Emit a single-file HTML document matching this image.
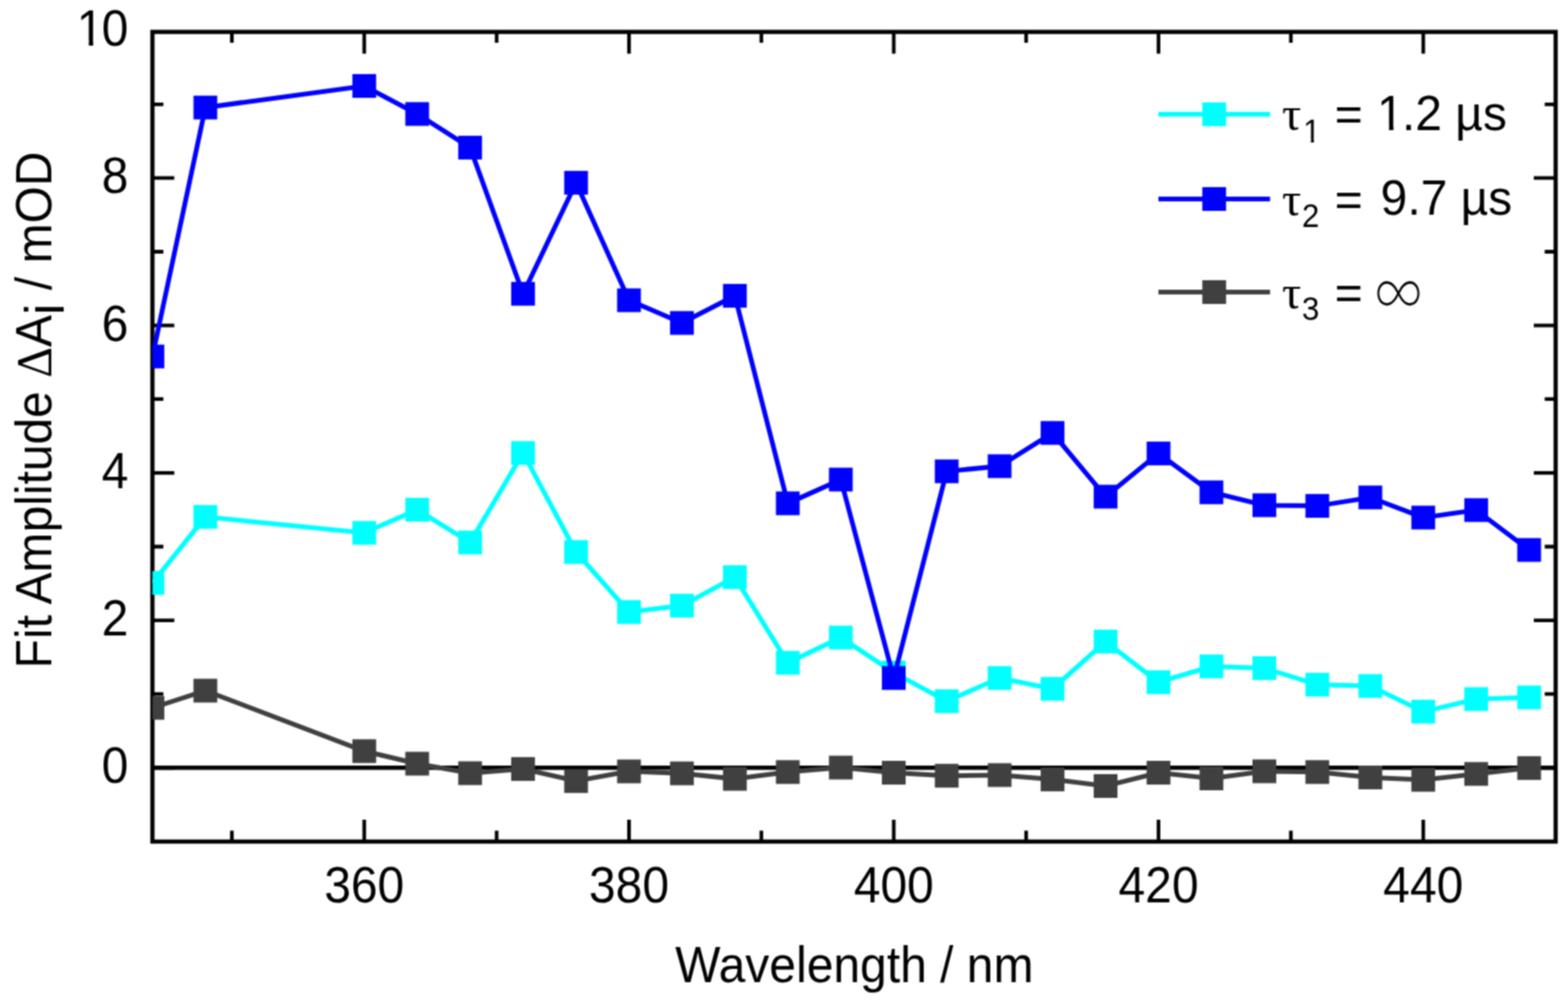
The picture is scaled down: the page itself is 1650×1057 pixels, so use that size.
<!DOCTYPE html>
<html><head><meta charset="utf-8"><title>Fit Amplitude vs Wavelength</title>
<style>
html,body{margin:0;padding:0;background:#fff;width:1650px;height:1057px;overflow:hidden}
svg{display:block}
text{font-family:"Liberation Sans", Arial, Helvetica, sans-serif;font-size:50.5px;fill:#000}
</style></head><body>
<svg width="1650" height="1057" viewBox="0 0 1650 1057">
<defs><filter id="bl" filterUnits="userSpaceOnUse" x="0" y="0" width="1650" height="1057" color-interpolation-filters="sRGB"><feConvolveMatrix order="3" kernelMatrix="1 2 1 2 4 2 1 2 1" divisor="16" edgeMode="duplicate" preserveAlpha="true"/></filter><clipPath id="one10"><rect x="75.84" y="9.36" width="50.50" height="33.58"/><rect x="93.44" y="42.64" width="4.66" height="7.96"/></clipPath><clipPath id="onesub"><rect x="1366.31" y="124.92" width="33.00" height="21.49"/><rect x="1379.51" y="146.11" width="3.12" height="6.59"/></clipPath><clipPath id="oneleg"><rect x="1444.10" y="99.20" width="50.50" height="32.91"/><rect x="1461.70" y="131.81" width="4.66" height="7.89"/></clipPath><clipPath id="c"><rect x="160.4" y="33.6" width="1476.6" height="852.4"/></clipPath></defs>
<g filter="url(#bl)">
<rect width="1650" height="1057" fill="#fff"/>
<path d="M160.4,808.3H1637.0" stroke="#000" stroke-width="4.4"/>
<path d="M244.0,886.0V874.5M244.0,33.6V45.1M383.3,886.0V863.0M383.3,33.6V56.6M522.6,886.0V874.5M522.6,33.6V45.1M661.9,886.0V863.0M661.9,33.6V56.6M801.2,886.0V874.5M801.2,33.6V45.1M940.5,886.0V863.0M940.5,33.6V56.6M1079.8,886.0V874.5M1079.8,33.6V45.1M1219.1,886.0V863.0M1219.1,33.6V56.6M1358.4,886.0V874.5M1358.4,33.6V45.1M1497.7,886.0V863.0M1497.7,33.6V56.6M160.4,808.3H183.4M1637.0,808.3H1614.0M160.4,730.7H171.9M1637.0,730.7H1625.5M160.4,653.1H183.4M1637.0,653.1H1614.0M160.4,575.5H171.9M1637.0,575.5H1625.5M160.4,497.9H183.4M1637.0,497.9H1614.0M160.4,420.2H171.9M1637.0,420.2H1625.5M160.4,342.6H183.4M1637.0,342.6H1614.0M160.4,265.0H171.9M1637.0,265.0H1625.5M160.4,187.4H183.4M1637.0,187.4H1614.0M160.4,109.8H171.9M1637.0,109.8H1625.5" stroke="#000" stroke-width="3.8" fill="none"/>
<rect x="160.4" y="33.6" width="1476.6" height="852.4" fill="none" stroke="#000" stroke-width="4.4"/>
<g clip-path="url(#c)">
<polyline points="160.4,613.7 216.1,544.2 383.3,561.0 439.0,536.6 494.7,571.1 550.4,476.9 606.2,581.2 661.9,644.3 717.6,637.6 773.3,607.6 829.0,697.8 884.8,671.2 940.5,708.1 996.2,738.2 1051.9,713.8 1107.6,725.2 1163.4,675.4 1219.1,718.2 1274.8,701.6 1330.5,703.4 1386.2,720.8 1442.0,722.2 1497.7,749.2 1553.4,736.0 1609.1,734.2" fill="none" stroke="#00FFFF" stroke-width="5.0" stroke-linejoin="miter" stroke-miterlimit="3"/>
<rect x="147.9" y="601.2" width="25" height="25" fill="#00FFFF"/><rect x="203.6" y="531.7" width="25" height="25" fill="#00FFFF"/><rect x="370.8" y="548.5" width="25" height="25" fill="#00FFFF"/><rect x="426.5" y="524.1" width="25" height="25" fill="#00FFFF"/><rect x="482.2" y="558.6" width="25" height="25" fill="#00FFFF"/><rect x="537.9" y="464.4" width="25" height="25" fill="#00FFFF"/><rect x="593.7" y="568.7" width="25" height="25" fill="#00FFFF"/><rect x="649.4" y="631.8" width="25" height="25" fill="#00FFFF"/><rect x="705.1" y="625.1" width="25" height="25" fill="#00FFFF"/><rect x="760.8" y="595.1" width="25" height="25" fill="#00FFFF"/><rect x="816.5" y="685.3" width="25" height="25" fill="#00FFFF"/><rect x="872.3" y="658.7" width="25" height="25" fill="#00FFFF"/><rect x="928.0" y="695.6" width="25" height="25" fill="#00FFFF"/><rect x="983.7" y="725.7" width="25" height="25" fill="#00FFFF"/><rect x="1039.4" y="701.3" width="25" height="25" fill="#00FFFF"/><rect x="1095.1" y="712.7" width="25" height="25" fill="#00FFFF"/><rect x="1150.9" y="662.9" width="25" height="25" fill="#00FFFF"/><rect x="1206.6" y="705.7" width="25" height="25" fill="#00FFFF"/><rect x="1262.3" y="689.1" width="25" height="25" fill="#00FFFF"/><rect x="1318.0" y="690.9" width="25" height="25" fill="#00FFFF"/><rect x="1373.7" y="708.3" width="25" height="25" fill="#00FFFF"/><rect x="1429.5" y="709.7" width="25" height="25" fill="#00FFFF"/><rect x="1485.2" y="736.7" width="25" height="25" fill="#00FFFF"/><rect x="1540.9" y="723.5" width="25" height="25" fill="#00FFFF"/><rect x="1596.6" y="721.7" width="25" height="25" fill="#00FFFF"/>
<polyline points="160.4,375.3 216.1,113.2 383.3,90.5 439.0,120.0 494.7,155.4 550.4,309.3 606.2,192.4 661.9,316.1 717.6,340.0 773.3,311.4 829.0,529.9 884.8,504.9 940.5,713.8 996.2,496.2 1051.9,490.8 1107.6,455.8 1163.4,522.9 1219.1,477.4 1274.8,518.3 1330.5,531.9 1386.2,532.6 1442.0,523.7 1497.7,544.9 1553.4,537.0 1609.1,579.0" fill="none" stroke="#0000FF" stroke-width="5.0" stroke-linejoin="miter" stroke-miterlimit="3"/>
<rect x="147.9" y="362.8" width="25" height="25" fill="#0000FF"/><rect x="203.6" y="100.7" width="25" height="25" fill="#0000FF"/><rect x="370.8" y="78.0" width="25" height="25" fill="#0000FF"/><rect x="426.5" y="107.5" width="25" height="25" fill="#0000FF"/><rect x="482.2" y="142.9" width="25" height="25" fill="#0000FF"/><rect x="537.9" y="296.8" width="25" height="25" fill="#0000FF"/><rect x="593.7" y="179.9" width="25" height="25" fill="#0000FF"/><rect x="649.4" y="303.6" width="25" height="25" fill="#0000FF"/><rect x="705.1" y="327.5" width="25" height="25" fill="#0000FF"/><rect x="760.8" y="298.9" width="25" height="25" fill="#0000FF"/><rect x="816.5" y="517.4" width="25" height="25" fill="#0000FF"/><rect x="872.3" y="492.4" width="25" height="25" fill="#0000FF"/><rect x="928.0" y="701.3" width="25" height="25" fill="#0000FF"/><rect x="983.7" y="483.7" width="25" height="25" fill="#0000FF"/><rect x="1039.4" y="478.3" width="25" height="25" fill="#0000FF"/><rect x="1095.1" y="443.3" width="25" height="25" fill="#0000FF"/><rect x="1150.9" y="510.4" width="25" height="25" fill="#0000FF"/><rect x="1206.6" y="464.9" width="25" height="25" fill="#0000FF"/><rect x="1262.3" y="505.8" width="25" height="25" fill="#0000FF"/><rect x="1318.0" y="519.4" width="25" height="25" fill="#0000FF"/><rect x="1373.7" y="520.1" width="25" height="25" fill="#0000FF"/><rect x="1429.5" y="511.2" width="25" height="25" fill="#0000FF"/><rect x="1485.2" y="532.4" width="25" height="25" fill="#0000FF"/><rect x="1540.9" y="524.5" width="25" height="25" fill="#0000FF"/><rect x="1596.6" y="566.5" width="25" height="25" fill="#0000FF"/>
<polyline points="160.4,745.2 216.1,727.1 383.3,790.8 439.0,804.0 494.7,814.0 550.4,809.6 606.2,822.3 661.9,812.1 717.6,814.2 773.3,820.0 829.0,812.8 884.8,808.1 940.5,813.5 996.2,816.7 1051.9,816.0 1107.6,820.6 1163.4,827.5 1219.1,813.5 1274.8,819.5 1330.5,812.0 1386.2,812.8 1442.0,818.5 1497.7,821.0 1553.4,814.8 1609.1,808.6" fill="none" stroke="#404040" stroke-width="5.0" stroke-linejoin="miter" stroke-miterlimit="3"/>
<rect x="147.9" y="732.7" width="25" height="25" fill="#404040"/><rect x="203.6" y="714.6" width="25" height="25" fill="#404040"/><rect x="370.8" y="778.3" width="25" height="25" fill="#404040"/><rect x="426.5" y="791.5" width="25" height="25" fill="#404040"/><rect x="482.2" y="801.5" width="25" height="25" fill="#404040"/><rect x="537.9" y="797.1" width="25" height="25" fill="#404040"/><rect x="593.7" y="809.8" width="25" height="25" fill="#404040"/><rect x="649.4" y="799.6" width="25" height="25" fill="#404040"/><rect x="705.1" y="801.7" width="25" height="25" fill="#404040"/><rect x="760.8" y="807.5" width="25" height="25" fill="#404040"/><rect x="816.5" y="800.3" width="25" height="25" fill="#404040"/><rect x="872.3" y="795.6" width="25" height="25" fill="#404040"/><rect x="928.0" y="801.0" width="25" height="25" fill="#404040"/><rect x="983.7" y="804.2" width="25" height="25" fill="#404040"/><rect x="1039.4" y="803.5" width="25" height="25" fill="#404040"/><rect x="1095.1" y="808.1" width="25" height="25" fill="#404040"/><rect x="1150.9" y="815.0" width="25" height="25" fill="#404040"/><rect x="1206.6" y="801.0" width="25" height="25" fill="#404040"/><rect x="1262.3" y="807.0" width="25" height="25" fill="#404040"/><rect x="1318.0" y="799.5" width="25" height="25" fill="#404040"/><rect x="1373.7" y="800.3" width="25" height="25" fill="#404040"/><rect x="1429.5" y="806.0" width="25" height="25" fill="#404040"/><rect x="1485.2" y="808.5" width="25" height="25" fill="#404040"/><rect x="1540.9" y="802.3" width="25" height="25" fill="#404040"/><rect x="1596.6" y="796.1" width="25" height="25" fill="#404040"/>
</g>
<text x="135" y="824.3" text-anchor="end" transform="matrix(1,0,0,1.05,0,-41.22)">0</text><text x="135" y="669.1" text-anchor="end" transform="matrix(1,0,0,1.05,0,-33.45)">2</text><text x="135" y="513.9" text-anchor="end" transform="matrix(1,0,0,1.05,0,-25.69)">4</text><text x="135" y="358.6" text-anchor="end" transform="matrix(1,0,0,1.05,0,-17.93)">6</text><text x="135" y="203.4" text-anchor="end" transform="matrix(1,0,0,1.05,0,-10.17)">8</text><text x="135" y="48.2" text-anchor="end" transform="matrix(1,0,0,1.05,0,-2.41)">0</text><g clip-path="url(#one10)"><text x="80.84" y="48.20" transform="matrix(1,0,0,1.05,0,-2.41)">1</text></g>
<text x="383.3" y="949.7" text-anchor="middle" transform="matrix(1,0,0,1.05,0,-47.49)">360</text><text x="661.9" y="949.7" text-anchor="middle" transform="matrix(1,0,0,1.05,0,-47.49)">380</text><text x="940.5" y="949.7" text-anchor="middle" transform="matrix(1,0,0,1.05,0,-47.49)">400</text><text x="1219.1" y="949.7" text-anchor="middle" transform="matrix(1,0,0,1.05,0,-47.49)">420</text><text x="1497.7" y="949.7" text-anchor="middle" transform="matrix(1,0,0,1.05,0,-47.49)">440</text>
<text x="899" y="1034" text-anchor="middle" transform="matrix(1,0,0,1.05,0,-51.70)">Wavelength / nm</text>
<text transform="translate(54,431.6) rotate(-90) scale(1,1.05)" text-anchor="middle">Fit Amplitude <tspan style="font-family:'Liberation Serif', serif">Δ</tspan>A<tspan dy="12.8" style="font-size:55px">i</tspan><tspan dy="-12.8"> / mOD</tspan></text>
<line x1="1219" y1="120.3" x2="1336.5" y2="120.3" stroke="#00FFFF" stroke-width="5.0"/><rect x="1265.2" y="107.8" width="25" height="25" fill="#00FFFF"/><text x="1349" y="137.3" style="font-family:'Liberation Serif', serif">τ</text><g clip-path="url(#onesub)"><text x="1371.31" y="150.30" style="font-size:33px" transform="matrix(1,0,0,1.05,0,-7.52)">1</text></g><text x="1404.6" y="137.3">=</text><g clip-path="url(#oneleg)"><text x="1449.10" y="137.30" transform="matrix(1,0,0,1.03,0,-4.12)">1</text></g><text x="1475.18" y="137.3" transform="matrix(1,0,0,1.03,0,-4.12)">.2 µs</text><line x1="1219" y1="209.5" x2="1336.5" y2="209.5" stroke="#0000FF" stroke-width="5.0"/><rect x="1265.2" y="197.0" width="25" height="25" fill="#0000FF"/><text x="1349" y="226.5" style="font-family:'Liberation Serif', serif">τ</text><text x="1370" y="239.5" style="font-size:33px" transform="matrix(1,0,0,1.05,0,-11.98)">2</text><text x="1404.6" y="226.5">=</text><text x="1452.8" y="226.5" transform="matrix(1,0,0,1.03,0,-6.80)">9.7 µs</text><line x1="1219" y1="307.5" x2="1336.5" y2="307.5" stroke="#404040" stroke-width="5.0"/><rect x="1265.2" y="295.0" width="25" height="25" fill="#404040"/><text x="1349" y="324.5" style="font-family:'Liberation Serif', serif">τ</text><text x="1370" y="337.5" style="font-size:33px" transform="matrix(1,0,0,1.05,0,-16.88)">3</text><text x="1404.6" y="324.5">=</text><text transform="translate(1447.8,331.2) scale(0.943,1.19)" style="font-family:'Noto Serif CJK SC', serif">∞</text>
</g>
</svg>
</body></html>
